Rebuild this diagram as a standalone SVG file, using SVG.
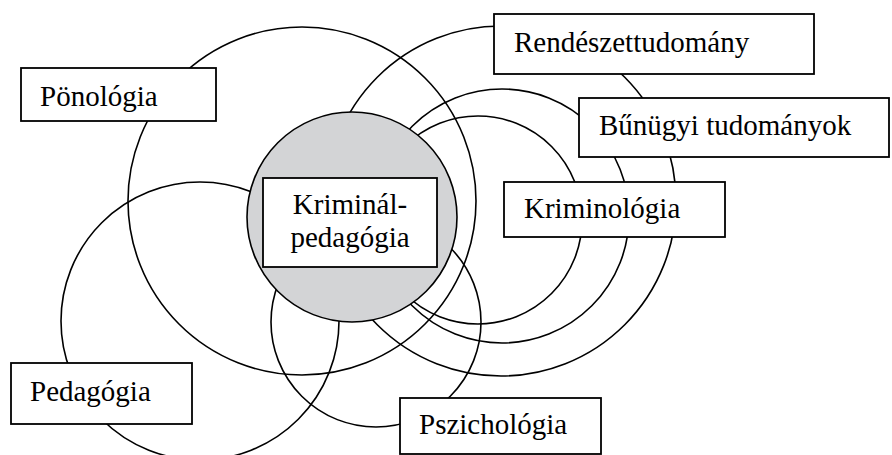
<svg xmlns="http://www.w3.org/2000/svg" width="892" height="455" viewBox="0 0 892 455">
<style>
.ring{fill:none;stroke:#000;stroke-width:1.6}
.core{fill:#d3d4d6;stroke:#000;stroke-width:1.6}
.box{fill:#fff;stroke:#000;stroke-width:1.8}
.lbl{font-family:"Liberation Serif","Times New Roman",serif;font-size:29px;fill:#000}
.mid{text-anchor:middle}
</style>
<rect width="892" height="455" fill="#fff"/>
<g id="rings">
<circle id="ring-ponologia" class="ring" cx="302" cy="201" r="174"/>
<circle id="ring-pedagogia" class="ring" cx="200" cy="321" r="139"/>
<circle id="ring-pszichologia" class="ring" cx="376" cy="322" r="105"/>
<circle id="ring-rendeszet" class="ring" cx="501" cy="201" r="175"/>
<circle id="ring-bunugyi" class="ring" cx="502" cy="216" r="127"/>
<circle id="ring-kriminologia" class="ring" cx="478" cy="220" r="104"/>
</g>
<g id="core">
<circle class="core" cx="352" cy="217" r="105"/>
</g>
<g id="node-kriminalpedagogia">
<rect class="box" x="263" y="178" width="174" height="89"/>
<text class="lbl mid" x="350" y="214">Kriminál-</text>
<text class="lbl mid" x="350" y="247">pedagógia</text>
</g>
<g id="node-ponologia">
<rect class="box" x="21" y="68" width="195" height="53"/>
<text class="lbl" x="40" y="106">Pönológia</text>
</g>
<g id="node-rendeszettudomany">
<rect class="box" x="494" y="14" width="320" height="60"/>
<text class="lbl" x="514" y="52">Rendészettudomány</text>
</g>
<g id="node-bunugyi">
<rect class="box" x="579" y="98" width="310" height="59"/>
<text class="lbl" x="599" y="135">Bűnügyi tudományok</text>
</g>
<g id="node-kriminologia">
<rect class="box" x="504" y="182" width="221" height="55"/>
<text class="lbl" x="524" y="218">Kriminológia</text>
</g>
<g id="node-pedagogia">
<rect class="box" x="11" y="363" width="181" height="61"/>
<text class="lbl" x="30" y="401">Pedagógia</text>
</g>
<g id="node-pszichologia">
<rect class="box" x="400" y="398" width="201" height="56"/>
<text class="lbl" x="419" y="434">Pszichológia</text>
</g>
</svg>
